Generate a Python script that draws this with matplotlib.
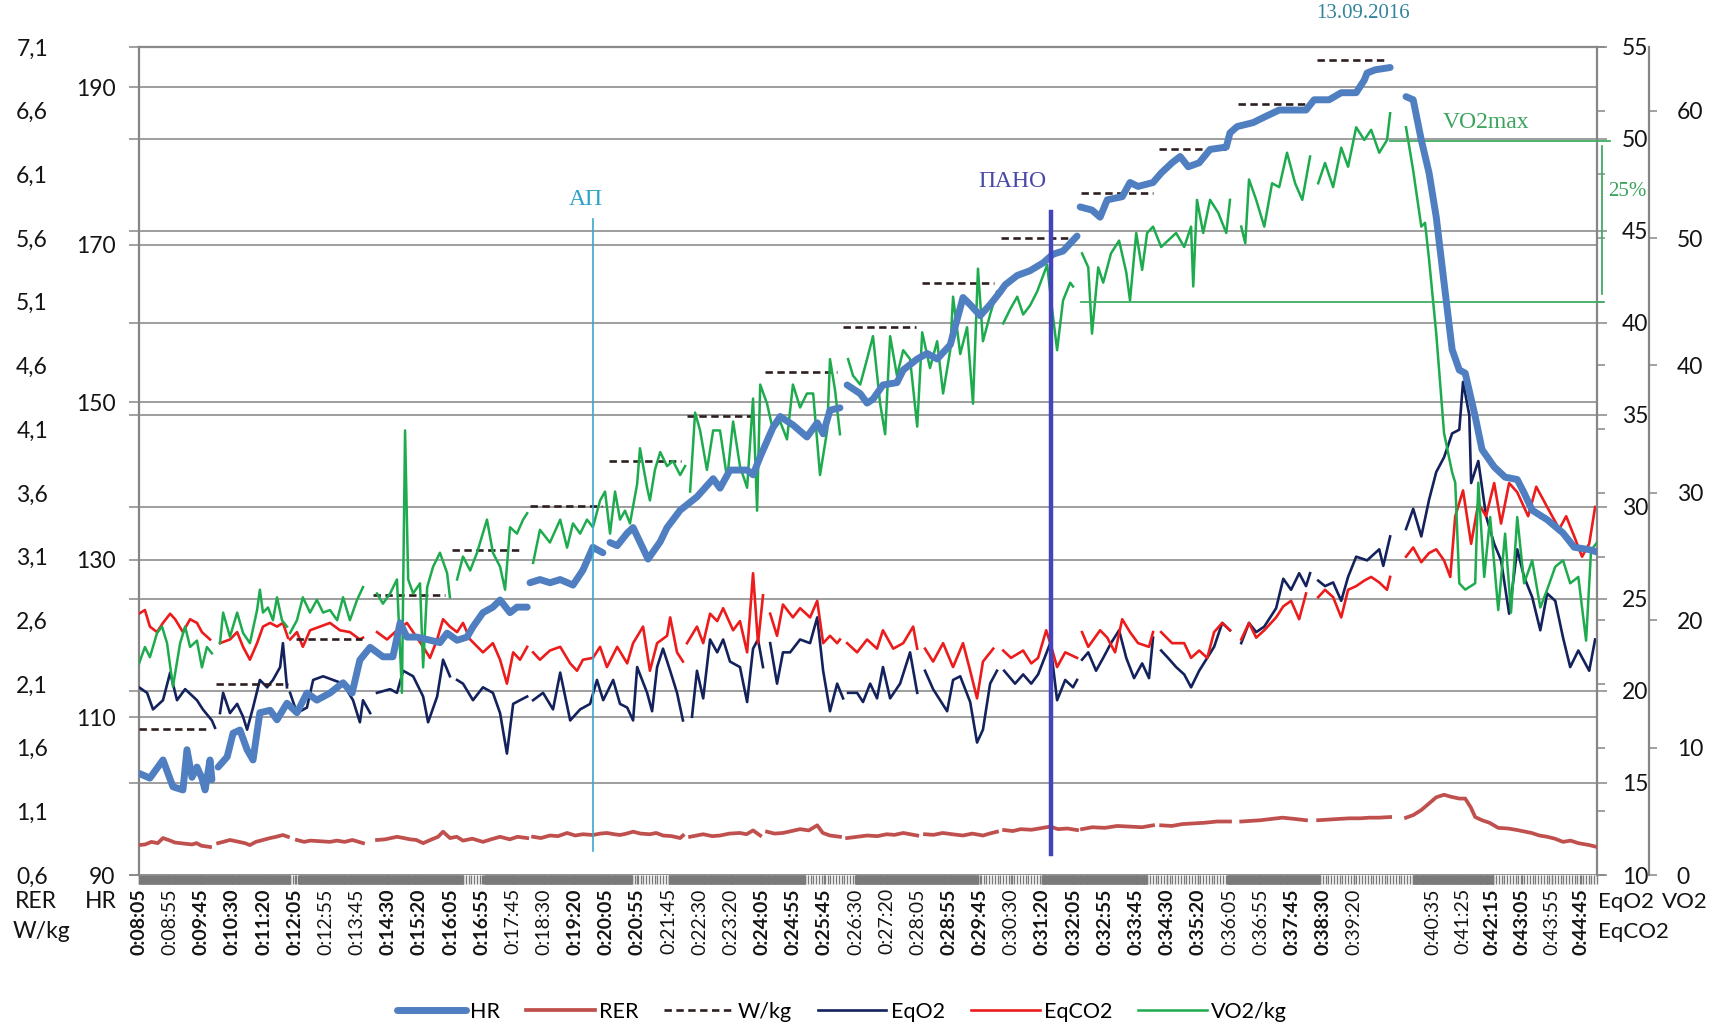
import matplotlib
matplotlib.use('Agg')
import numpy as np
import matplotlib.pyplot as plt
from matplotlib.ticker import FuncFormatter

plt.rcParams['font.family'] = ['Lato', 'DejaVu Sans']

W, H = 1721, 1028
GAP = None

# ── x axis: one label every 10 breaths, recording break after 0:39:20 ──────
time_labels = ['0:08:05', '0:08:55', '0:09:45', '0:10:30', '0:11:20', '0:12:05', '0:12:55',
               '0:13:45', '0:14:30', '0:15:20', '0:16:05', '0:16:55', '0:17:45', '0:18:30',
               '0:19:20', '0:20:05', '0:20:55', '0:21:45', '0:22:30', '0:23:20', '0:24:05',
               '0:24:55', '0:25:45', '0:26:30', '0:27:20', '0:28:05', '0:28:55', '0:29:45',
               '0:30:30', '0:31:20', '0:32:05', '0:32:55', '0:33:45', '0:34:30', '0:35:20',
               '0:36:05', '0:36:55', '0:37:45', '0:38:30', '0:39:20', '0:40:35', '0:41:25',
               '0:42:15', '0:43:05', '0:43:55', '0:44:45']
label_bold = [1, 0, 1, 1, 1, 1, 0, 0, 1, 1, 1, 1, 0, 0, 1, 1, 1, 0, 0, 0, 1, 1, 1,
              0, 0, 0, 1, 1, 0, 1, 1, 1, 1, 1, 1, 0, 0, 1, 1, 0, 0, 0, 1, 1, 0, 1]
# stretches of the axis where breaths are sparse (tick band looks striped)
sparse_spans = [(48.5, 51.1), (104, 110.8), (158.3, 170.1), (213.8, 229.9),
                (269.3, 289.9), (323.6, 349.3), (379.1, 409), (434.7, 468)]

# ── series: (breath index, value), GAP breaks the line ─────────────────────
hr_pts = [
    (0, 102.9), (3.5, 102.3), (7.7, 104.6), (10.9, 101.2), (14.1, 100.8), (15.4, 105.9),
    (17.0, 102.4), (18.6, 103.7), (20.2, 102.3), (21.2, 100.8), (22.8, 104.6), (23.4, 102.1), GAP,
    (25.4, 103.7), (28.3, 105.0), (30.2, 108.0), (32.4, 108.4), (34.7, 105.9), (36.6, 104.6),
    (38.8, 110.6), (42.1, 110.9), (44.3, 109.7), (47.5, 111.8), (50.7, 110.6), (53.9, 113.1),
    (57.1, 112.2), (61.3, 113.1), (65.5, 114.4), (68.4, 113.1), (70.9, 117.3), (74.2, 118.9),
    (78.3, 117.7), (81.5, 117.7), (83.8, 122.0), (86.0, 120.2), (89.2, 120.2), (93.4, 119.8),
    (96.6, 119.5), (98.9, 120.7), (102.1, 119.8), (105.3, 120.2), (107.2, 121.5), (110.4, 123.3),
    (113.6, 124.0), (115.9, 124.9), (119.1, 123.3), (121.3, 124.0), (124.6, 124.0), GAP,
    (125.5, 127.1), (128.7, 127.5), (131.9, 127.1), (135.2, 127.5), (139.3, 126.8), (142.5, 128.7),
    (145.7, 131.6), (148.9, 130.9), GAP,
    (151.2, 132.2), (153.5, 131.8), (156.7, 133.4), (158.6, 134.1), (163.4, 130.1), (167.3, 132.3),
    (169.5, 134.1), (173.7, 136.3), (179.1, 138.0), (184.3, 140.3), (186.5, 139.1), (189.7, 141.4),
    (195.2, 141.4), (197.1, 140.8), (199.4, 143.1), (203.5, 146.8), (205.8, 148.2), (210.0, 147.1),
    (214.4, 145.6), (217.7, 147.4), (219.6, 146.0), (221.8, 149.0), (225.0, 149.3), GAP,
    (227.3, 152.2), (231.5, 151.1), (233.7, 149.9), (235.6, 150.4), (238.8, 152.2), (243.3, 152.5),
    (245.3, 154.1), (249.8, 155.5), (253.0, 156.2), (256.2, 155.5), (260.4, 157.3), (264.5, 163.3),
    (266.8, 162.4), (270.0, 161.0), (273.2, 162.4), (276.4, 164.0), (278.0, 164.9), (281.9, 166.1),
    (286.0, 166.7), (290.2, 167.7), (293.4, 168.8), (296.6, 169.2), (301.1, 171.1), GAP,
    (302.1, 174.8), (305.9, 174.4), (308.5, 173.5), (310.8, 175.7), (315.6, 176.1), (318.1, 177.9),
    (320.7, 177.4), (325.5, 177.9), (328.1, 179.1), (331.6, 180.4), (334.2, 181.2), (336.8, 179.9),
    (340.3, 180.4), (343.8, 182.1), (349.0, 182.4), (350.2, 184.2), (352.5, 185.0), (357.6, 185.5),
    (361.2, 186.2), (366.0, 187.1), (374.6, 187.1), (377.2, 188.4), (382.0, 188.4), (385.9, 189.3),
    (390.7, 189.3), (393.3, 190.9), (394.2, 191.8), (396.8, 192.2), (401.6, 192.5), GAP,
    (406.7, 188.8), (409.0, 188.4), (411.6, 183.3), (414.1, 179.1), (416.4, 173.5), (418.9, 165.2),
    (421.5, 156.7), (423.8, 154.1), (425.7, 153.7), (428.9, 148.2), (431.1, 144.0), (435.0, 141.8),
    (438.5, 140.5), (442.4, 140.2), (444.6, 138.5), (447.2, 136.3), (452.0, 135.1), (457.1, 133.4),
    (460.7, 131.6), (465.5, 131.3), (468.0, 131.0)]

rer_pts = [
    (0, 0.835), (2, 0.84), (4, 0.86), (6, 0.85), (7.7, 0.89), (10, 0.87), (11.5, 0.855), (13.2, 0.85),
    (15, 0.845), (17, 0.84), (18.5, 0.85), (20, 0.83), (22.8, 0.82), GAP,
    (25.4, 0.85), (27, 0.86), (29.2, 0.875), (32, 0.86), (34, 0.85), (35.6, 0.835), (37.5, 0.86),
    (39, 0.87), (42.1, 0.89), (44, 0.90), (46.2, 0.914), (47.8, 0.90), GAP,
    (50.7, 0.875), (53, 0.86), (55, 0.87), (58, 0.865), (61.3, 0.86), (63.5, 0.87), (66, 0.86),
    (68.5, 0.875), (71.9, 0.85), GAP,
    (76.4, 0.875), (79, 0.88), (82.8, 0.90), (85, 0.89), (87, 0.88), (89, 0.875), (91.2, 0.85),
    (94, 0.88), (96, 0.90), (97.6, 0.94), (99.8, 0.89), (102, 0.90), (104, 0.87), (107, 0.885),
    (110.4, 0.86), (113, 0.88), (115.9, 0.90), (117.5, 0.89), (119, 0.88), (121.5, 0.90), (124.6, 0.89), GAP,
    (126.5, 0.90), (129, 0.89), (131.9, 0.91), (134.5, 0.905), (137.4, 0.93), (140, 0.91),
    (142.5, 0.92), (145.7, 0.914), (148, 0.925), (150.2, 0.93), (152.5, 0.92), (154.4, 0.914),
    (156.5, 0.925), (158.6, 0.94), (161, 0.925), (164, 0.92), (166, 0.93), (168.2, 0.91),
    (171, 0.905), (173.7, 0.89), (174.6, 0.91), GAP,
    (176.9, 0.90), (179, 0.91), (181.1, 0.92), (184, 0.905), (186.5, 0.91), (189.5, 0.925),
    (192.9, 0.93), (195, 0.92), (197.1, 0.95), (199.4, 0.91), GAP,
    (201.6, 0.94), (204, 0.925), (206.7, 0.93), (209.5, 0.945), (212.2, 0.96), (215, 0.95),
    (217.7, 0.99), (219.5, 0.93), (221.8, 0.91), (225, 0.90), GAP,
    (227.3, 0.89), (230.5, 0.90), (233.7, 0.91), (237, 0.905), (240, 0.92), (242.5, 0.915),
    (245.3, 0.93), (247.5, 0.92), (249.8, 0.91), GAP,
    (252.3, 0.92), (255, 0.915), (258, 0.93), (261, 0.92), (264.5, 0.91), (267.5, 0.925),
    (270.9, 0.91), (273, 0.925), (275.4, 0.94), GAP,
    (277.7, 0.953), (280.5, 0.945), (283, 0.96), (286.5, 0.955), (290.2, 0.97), (292.5, 0.98),
    (295, 0.96), (298, 0.965), (301.1, 0.953), GAP,
    (302.7, 0.96), (306, 0.975), (310, 0.97), (314, 0.985), (318, 0.98), (322, 0.975), (325.5, 0.99), GAP,
    (328.1, 0.99), (331.5, 0.985), (335, 1.00), (338.5, 1.005), (342, 1.01), (346, 1.02), (350.2, 1.02), GAP,
    (353.8, 1.02), (357, 1.025), (360, 1.03), (363.5, 1.04), (367, 1.05), (371, 1.04), (374.6, 1.03), GAP,
    (378.5, 1.03), (381.5, 1.035), (385, 1.04), (388.5, 1.045), (392, 1.045), (395, 1.05),
    (398, 1.05), (401.6, 1.055), GAP,
    (406.7, 1.05), (409, 1.07), (411.6, 1.11), (414, 1.16), (416.4, 1.21), (418.9, 1.23),
    (421, 1.215), (423.8, 1.20), (425.7, 1.20), (427.5, 1.13), (428.9, 1.055), (431.1, 1.03),
    (433.5, 1.01), (436.3, 0.97), (439.5, 0.965), (442.4, 0.953), (445, 0.94), (447, 0.93),
    (449.5, 0.91), (452, 0.90), (454.5, 0.885), (457.1, 0.86), (459.5, 0.87), (462, 0.85),
    (465.5, 0.835), (468, 0.82)]

wkg_start = [0, 24.8, 50.5, 75.2, 100.5, 125.6, 151, 176, 201, 226, 251.4, 276.7, 302.5, 327.5, 352.9, 378]
wkg_end = [22.3, 47.7, 71.7, 98.1, 123.1, 148.5, 174, 198.5, 224, 249.3, 274.3, 300, 325.4, 350, 375.8, 400.4]
wkg = [1.75, 2.1, 2.45, 2.8, 3.15, 3.5, 3.85, 4.2, 4.55, 4.9, 5.25, 5.6, 5.95, 6.3, 6.65, 7.0]

eqo2_pts = [
    (0, 20.2), (2.6, 19.9), (4.5, 19.0), (7.7, 19.5), (10.0, 21.0), (12.2, 19.5), (14.8, 20.1),
    (18.6, 19.5), (20.5, 19.0), (23.4, 18.4), (24.4, 18.0), GAP,
    (26.0, 18.8), (27.0, 19.9), (29.2, 18.8), (31.5, 19.3), (33.4, 18.6), (34.7, 17.9), (36.6, 19.1),
    (38.8, 20.6), (41.1, 20.2), (43.0, 20.6), (45.3, 21.3), (46.2, 22.6), (47.5, 20.2), GAP,
    (48.5, 19.9), (50.7, 18.8), (53.9, 19.1), (55.9, 20.6), (59.1, 20.8), (62.3, 20.6), (65.5, 20.4),
    (68.7, 19.5), (70.9, 18.3), (71.9, 19.5), (74.2, 18.8), GAP,
    (76.4, 19.9), (80.6, 20.1), (82.8, 19.9), (84.8, 21.1), (88.0, 20.8), (91.2, 19.7), (92.8, 18.3),
    (95.7, 19.7), (97.6, 21.7), (99.8, 20.8), GAP,
    (102.1, 20.6), (104.0, 20.4), (107.2, 19.5), (110.4, 20.2), (113.6, 19.9), (115.9, 18.8),
    (118.1, 16.6), (120.1, 19.3), (122.3, 19.5), (124.6, 19.7), GAP,
    (126.5, 19.5), (129.7, 19.9), (132.9, 19.0), (135.2, 21.0), (138.4, 18.4), (141.6, 19.0),
    (144.8, 19.3), (147.0, 20.6), (149.0, 19.5), (152.2, 20.6), (154.4, 19.3), (156.7, 19.1),
    (158.6, 18.4), (159.9, 21.3), (163.1, 19.9), (164.7, 18.9), (166.3, 21.3), (168.2, 22.3),
    (170.5, 21.1), (172.7, 19.9), (174.6, 18.4), GAP,
    (177.5, 18.6), (179.1, 21.1), (181.1, 19.6), (183.3, 22.8), (185.6, 22.1), (187.5, 22.8),
    (189.7, 21.6), (192.9, 21.3), (195.2, 19.4), (197.1, 22.3), (198.7, 22.8), (200.3, 21.3), GAP,
    (202.6, 22.6), (204.8, 20.4), (206.7, 22.1), (209.0, 22.1), (212.2, 22.8), (215.4, 22.6),
    (217.7, 24.0), (219.6, 21.1), (221.8, 18.9), (224.1, 20.4), (226.0, 19.6), GAP,
    (227.6, 19.9), (230.5, 19.9), (232.4, 19.4), (234.7, 20.4), (236.9, 19.6), (238.8, 21.3),
    (241.1, 19.6), (244.3, 20.4), (247.5, 22.1), (249.8, 19.9), GAP,
    (252.3, 21.1), (254.9, 20.1), (259.4, 18.9), (261.3, 20.6), (263.6, 20.8), (266.8, 19.4),
    (269.0, 17.2), (270.9, 17.9), (273.2, 20.4), (275.4, 21.1), GAP,
    (277.7, 21.1), (281.2, 20.4), (283.8, 20.9), (286.4, 20.4), (288.6, 20.9), (292.5, 22.6),
    (294.7, 19.5), (297.3, 20.6), (299.8, 20.2), (301.1, 20.6), GAP,
    (302.7, 21.7), (304.7, 22.1), (307.2, 21.1), (309.5, 21.8), (312.0, 22.6), (314.6, 23.3),
    (316.9, 21.8), (319.4, 20.7), (322.0, 21.5), (324.2, 20.7), (325.5, 22.9), GAP,
    (328.1, 22.2), (330.3, 21.8), (332.9, 21.3), (335.5, 20.9), (337.7, 20.2), (340.3, 21.1),
    (342.9, 21.8), (345.1, 22.4), (347.7, 23.7), (350.2, 23.3), GAP,
    (353.8, 22.6), (356.3, 23.7), (358.6, 23.2), (361.2, 23.5), (365.0, 24.5), (367.3, 26.1),
    (369.8, 25.5), (372.4, 26.4), (374.6, 25.7), (375.9, 26.4), GAP,
    (378.5, 26.0), (380.7, 25.7), (383.3, 25.9), (385.9, 24.9), (388.1, 26.2), (390.7, 27.3),
    (394.2, 27.1), (398.1, 27.7), (399.4, 26.8), (401.6, 28.4), GAP,
    (406.7, 28.8), (409.0, 29.9), (411.6, 28.4), (414.1, 30.4), (416.4, 31.9), (418.9, 32.7),
    (421.5, 34.0), (423.8, 34.2), (425.0, 36.8), (427.0, 35.0), (427.6, 31.3), (429.9, 32.5),
    (432.4, 29.5), (435.0, 28.0), (437.2, 27.1), (439.8, 24.2), (442.4, 27.7), (444.6, 26.2),
    (447.2, 25.1), (449.8, 23.3), (452.0, 25.3), (454.6, 24.9), (457.1, 22.9), (459.4, 21.3),
    (462.0, 22.2), (465.5, 21.1), (467.4, 22.8)]

eqco2_pts = [
    (0, 24.2), (1.9, 24.4), (3.5, 23.5), (5.8, 23.2), (7.7, 23.7), (10.0, 24.2), (11.6, 23.9),
    (14.1, 23.2), (16.4, 23.9), (18.6, 23.7), (20.2, 23.2), (22.8, 22.8), GAP,
    (26.0, 22.6), (29.2, 22.8), (31.5, 23.2), (33.4, 22.4), (35.6, 21.7), (37.9, 22.6), (39.8, 23.5),
    (42.1, 23.7), (44.3, 23.5), (46.2, 23.7), (47.8, 22.9), GAP,
    (48.5, 22.8), (50.7, 23.2), (52.6, 22.4), (54.9, 23.3), (58.1, 23.5), (61.3, 23.7), (64.5, 23.3),
    (67.7, 23.2), (70.9, 22.8), (71.9, 22.9), GAP,
    (76.4, 23.2), (79.6, 22.8), (82.8, 23.3), (86.0, 23.7), (89.2, 22.9), (91.2, 22.4), (93.4, 21.8),
    (95.7, 22.8), (97.6, 23.9), (99.8, 23.5), (102.1, 23.2), (104.0, 23.7), (106.3, 22.8),
    (110.4, 22.1), (113.6, 22.6), (115.9, 21.7), (118.1, 20.4), (120.1, 22.1), (122.3, 21.7),
    (124.6, 22.4), GAP,
    (126.5, 22.1), (128.7, 21.7), (131.9, 22.2), (135.2, 22.4), (138.4, 21.5), (140.6, 21.1),
    (142.5, 21.7), (145.7, 21.8), (148.0, 22.4), (150.2, 21.3), (153.5, 22.4), (156.7, 21.5),
    (158.6, 22.6), (161.8, 23.5), (164.0, 21.1), (166.3, 22.6), (169.5, 23.0), (170.5, 24.0),
    (172.7, 22.1), (174.6, 21.6), GAP,
    (175.9, 22.6), (179.1, 23.5), (181.1, 22.6), (183.3, 24.2), (185.6, 23.8), (187.5, 24.5),
    (190.7, 23.3), (192.9, 23.8), (195.2, 22.1), (197.1, 26.4), (198.7, 22.6), (200.3, 25.2), GAP,
    (202.6, 24.2), (204.8, 23.0), (206.7, 24.7), (209.9, 24.0), (212.2, 24.5), (215.4, 24.0),
    (217.7, 24.9), (219.6, 22.6), (221.8, 23.0), (224.1, 22.6), (225.0, 22.8), GAP,
    (227.3, 22.6), (230.5, 22.1), (233.7, 22.8), (236.9, 22.3), (238.8, 23.3), (242.1, 22.3),
    (245.3, 22.6), (248.5, 23.5), (249.8, 22.3), GAP,
    (252.3, 22.3), (254.9, 21.6), (258.1, 22.6), (261.3, 21.3), (264.5, 22.6), (266.8, 21.1),
    (269.0, 19.6), (270.9, 21.6), (274.2, 22.3), GAP,
    (277.4, 22.2), (279.9, 21.8), (283.8, 22.2), (286.4, 21.5), (288.6, 21.8), (291.2, 23.3),
    (292.5, 22.6), (294.7, 21.3), (297.3, 22.1), (301.1, 21.8), GAP,
    (302.7, 23.2), (304.7, 22.4), (308.5, 23.3), (310.8, 22.9), (313.3, 22.1), (315.6, 23.9),
    (318.1, 23.2), (320.7, 22.6), (324.2, 22.4), (325.5, 23.2), GAP,
    (328.1, 23.2), (331.6, 22.6), (335.5, 22.6), (337.7, 21.8), (340.3, 22.2), (342.9, 21.8),
    (345.1, 23.2), (347.7, 23.7), (350.2, 23.3), GAP,
    (353.8, 22.8), (356.3, 23.7), (358.6, 22.9), (361.2, 23.3), (365.0, 24.0), (367.3, 24.6),
    (369.8, 24.9), (372.4, 23.9), (374.6, 25.3), GAP,
    (378.5, 25.1), (380.7, 25.5), (383.3, 25.1), (385.9, 24.0), (388.1, 25.5), (390.7, 25.7),
    (393.3, 26.0), (395.5, 26.2), (398.1, 25.9), (400.6, 25.5), (401.6, 26.2), GAP,
    (406.7, 27.3), (409.0, 27.8), (411.6, 27.0), (414.1, 27.5), (416.4, 27.7), (418.9, 27.1),
    (420.9, 26.2), (422.5, 29.5), (425.0, 30.9), (427.6, 28.0), (429.9, 30.2), (432.4, 29.5),
    (435.0, 31.3), (437.2, 29.1), (439.8, 31.3), (442.4, 30.8), (445.9, 29.5), (448.5, 31.1),
    (452.0, 30.0), (455.9, 28.8), (458.1, 29.5), (460.7, 28.4), (463.2, 27.3), (465.5, 28.0),
    (467.4, 30.0)]

vo2_pts = [
    (0, 16.6), (1.9, 17.9), (3.5, 17.1), (5.8, 19.0), (7.4, 19.5), (9.0, 18.2), (10.9, 14.8),
    (13.2, 18.2), (14.8, 19.5), (16.4, 17.9), (18.6, 18.4), (20.2, 16.3), (21.8, 17.9), (23.4, 17.4), GAP,
    (26.0, 18.2), (27.0, 20.6), (29.2, 18.7), (31.5, 20.6), (33.4, 19.0), (35.6, 18.2), (37.9, 20.8),
    (38.8, 22.4), (39.8, 20.6), (41.4, 21.0), (43.0, 20.0), (44.3, 21.8), (45.9, 20.0), (47.5, 19.5), GAP,
    (48.5, 19.0), (50.7, 20.0), (52.6, 21.8), (54.9, 20.6), (57.1, 21.6), (59.1, 20.6), (61.3, 20.8),
    (63.6, 20.0), (65.5, 21.8), (67.7, 20.0), (70.0, 21.6), (71.9, 22.6), GAP,
    (76.4, 22.1), (78.3, 21.3), (80.6, 22.1), (82.8, 23.2), (84.4, 14.3), (85.4, 34.9), (86.4, 23.2),
    (88.0, 22.1), (90.2, 22.9), (91.2, 16.3), (92.5, 22.6), (94.4, 24.2), (96.6, 25.3), (98.9, 23.7),
    (99.8, 21.8), GAP,
    (102.1, 23.2), (104.0, 25.0), (106.3, 23.9), (108.5, 25.3), (111.7, 27.9), (113.6, 25.3),
    (115.9, 24.2), (117.5, 22.4), (119.1, 27.3), (121.3, 26.8), (123.3, 27.9), (124.6, 28.4), GAP,
    (126.5, 24.5), (128.7, 27.1), (131.9, 26.1), (135.2, 27.9), (137.4, 25.7), (139.3, 27.6),
    (141.6, 26.8), (143.8, 27.9), (145.7, 27.3), (148.0, 29.4), (149.6, 30.1), (151.2, 26.8),
    (152.8, 30.1), (154.4, 27.9), (156.0, 28.6), (157.6, 27.6), (159.9, 30.7), (160.8, 33.5),
    (163.1, 30.4), (164.0, 29.4), (165.6, 31.8), (167.3, 33.2), (169.5, 32.1), (171.4, 32.5),
    (173.7, 31.4), (175.3, 32.1), GAP,
    (176.9, 30.1), (178.5, 36.3), (180.1, 34.9), (182.3, 31.8), (184.3, 34.9), (186.5, 34.9),
    (188.8, 31.1), (190.7, 35.6), (192.9, 32.1), (195.2, 30.4), (197.1, 37.4), (198.4, 28.6),
    (199.4, 38.5), (201.6, 37.0), (203.5, 34.9), (205.8, 35.6), (208.0, 34.2), (209.9, 38.5),
    (212.2, 36.7), (214.4, 37.8), (216.4, 37.8), (218.6, 31.4), (220.9, 34.9), (221.8, 40.5),
    (223.4, 38.1), (225.0, 34.6), GAP,
    (227.6, 40.5), (229.2, 39.2), (231.5, 38.5), (233.7, 40.5), (235.6, 42.3), (237.9, 37.0),
    (239.5, 34.6), (241.1, 42.3), (243.3, 39.2), (245.3, 41.2), (247.5, 40.5), (249.8, 35.2),
    (251.4, 42.6), (253.9, 39.8), (256.2, 41.9), (258.1, 37.8), (260.4, 41.2), (261.3, 45.4),
    (263.6, 40.9), (265.8, 43.0), (267.7, 37.0), (269.3, 47.6), (270.9, 41.9), (273.2, 44.0),
    (275.4, 45.8), GAP,
    (277.4, 43.3), (279.6, 44.4), (281.9, 45.4), (283.8, 44.0), (286.0, 44.7), (288.3, 45.8),
    (291.5, 47.9), (293.1, 44.4), (294.7, 41.2), (296.6, 45.1), (298.9, 46.5), (299.8, 46.2), GAP,
    (302.7, 48.8), (304.7, 47.7), (305.9, 42.5), (307.9, 47.7), (309.5, 46.5), (312.0, 48.8),
    (314.6, 49.8), (316.9, 47.3), (318.1, 45.1), (320.1, 50.4), (322.0, 47.5), (323.6, 50.4),
    (325.5, 50.9), (328.1, 49.3), (330.3, 49.8), (332.9, 50.4), (335.5, 49.3), (337.7, 50.9),
    (338.4, 46.2), (339.6, 53.0), (341.6, 50.4), (343.8, 53.0), (346.4, 52.0), (349.0, 50.4),
    (350.2, 53.0), GAP,
    (353.8, 50.9), (355.1, 49.6), (356.3, 54.6), (358.6, 53.0), (361.2, 50.9), (363.7, 54.3),
    (366.0, 54.0), (368.5, 56.7), (371.1, 54.3), (373.4, 53.0), (375.9, 56.4), GAP,
    (378.5, 54.3), (380.7, 55.9), (383.3, 54.0), (385.9, 57.1), (388.1, 55.6), (390.7, 58.7),
    (393.3, 57.7), (395.5, 58.5), (398.1, 56.7), (400.6, 57.7), (401.6, 59.8), GAP,
    (406.7, 58.7), (409.0, 55.3), (411.6, 50.9), (412.8, 51.2), (414.1, 48.3), (416.4, 42.5),
    (418.9, 34.7), (421.5, 31.6), (422.5, 30.8), (423.8, 22.9), (425.7, 22.4), (428.9, 22.9),
    (429.9, 30.8), (431.8, 23.4), (433.7, 28.1), (436.3, 20.8), (438.5, 26.8), (440.4, 20.6),
    (442.4, 28.1), (444.6, 22.9), (447.2, 24.7), (449.8, 21.0), (452.0, 22.4), (454.6, 24.2),
    (457.1, 24.7), (459.4, 22.9), (462.0, 23.4), (464.5, 18.4), (466.1, 25.5), (468.0, 26.1)]

# markers: aerobic threshold, anaerobic threshold, VO2max and the 25 % band
at_idx, anat_idx = 145.7, 292.9
vo2max, vo2_band = 57.6, 45.0

# ── colours ────────────────────────────────────────────────────────────────
GRAY, GRID, BAND, TXT = '#868686', '#8e8e8e', '#7a7a7a', '#141414'
C_HR, C_RER, C_WKG = '#4f7fc0', '#c0504d', '#2e1f1f'
C_O2, C_CO2, C_VO2 = '#13225c', '#ec1c1c', '#1eab4e'
C_AT, C_ANAT, C_MAX = '#3aa8cc', '#4343c0', '#3fae62'
SERIF = 'Liberation Serif'
TICK_FS = 16.5


def split(pts):
    x = np.array([np.nan if p is None else p[0] for p in pts], float)
    y = np.array([np.nan if p is None else p[1] for p in pts], float)
    return x, y


def fx(x):
    return x / W


def fy(y):
    return 1 - y / H


fig = plt.figure(figsize=(W / 100, H / 100), dpi=100, facecolor='white')
L, R, T, B = 139, 1597, 47, 875
ax = fig.add_axes([L / W, 1 - B / H, (R - L) / W, (B - T) / H])

# HR scale (inner left), holds the HR grid
ax.set_xlim(0, 468)
ax.set_ylim(90, 195.1)
ax.set_yticks(np.arange(90, 191, 20))
ax.grid(axis='y', color=GRID, lw=1.2)
for s in ['right', 'bottom']:
    ax.spines[s].set_visible(False)
for s in ['left', 'top']:
    ax.spines[s].set_color(GRAY)
    ax.spines[s].set_linewidth(1.6)
ax.tick_params(axis='y', length=7, width=1.1, color=GRAY, pad=10, labelsize=TICK_FS, labelcolor=TXT)

tick_pos = list(np.arange(0, 400, 10)) + list(415.4 + 9.52 * np.arange(6))
ax.set_xticks(tick_pos)
ax.set_xticklabels(time_labels, rotation=90, fontsize=14)
for lab, b in zip(ax.get_xticklabels(), label_bold):
    lab.set_fontweight('bold' if b else 'normal')

# one tick per breath: dense stretches merge into a solid band
edges = [0.0] + [v for span in sparse_spans for v in span]
minor = []
for i in range(len(edges) - 1):
    step = 0.9 if i % 2 else 0.15
    minor.extend(np.arange(edges[i], edges[i + 1], step))
ax.set_xticks(minor, minor=True)
ax.tick_params(axis='x', which='both', length=6.5, width=1.0, color=BAND)
ax.tick_params(axis='x', which='major', pad=3, labelcolor=TXT)

# EqO2 / EqCO2 scale (inner right)
ax_eq = ax.twinx()
ax_eq.set_ylim(10, 55)
ax_eq.set_yticks(np.arange(10, 56, 5))
ax_eq.grid(axis='y', color=GRID, lw=1.2)
ax_eq.tick_params(axis='y', left=True, right=True, labelleft=False, labelright=True,
                  length=7, width=1.1, color=GRAY, pad=11, labelsize=TICK_FS, labelcolor=TXT)
for s in ['left', 'top', 'bottom']:
    ax_eq.spines[s].set_visible(False)
ax_eq.spines['right'].set_color(GRAY)
ax_eq.spines['right'].set_linewidth(1.6)

# RER / W/kg scale (outer left, labels only)
ax_w = ax.twinx()
ax_w.set_ylim(0.6, 7.1)
ax_w.set_yticks(np.arange(0.6, 7.15, 0.5))
ax_w.yaxis.set_major_formatter(FuncFormatter(lambda v, p: f'{v:.1f}'.replace('.', ',')))
ax_w.tick_params(axis='y', left=False, labelleft=True, right=True, labelright=False,
                 length=6, width=1.1, color=GRAY, pad=59.5, labelsize=TICK_FS, labelcolor=TXT)
for s in ax_w.spines.values():
    s.set_visible(False)

# VO2 scale (outer right)
ax_v = ax.twinx()
ax_v.set_ylim(0, 65)
ax_v.set_yticks(np.arange(0, 61, 10))
ax_v.spines['right'].set_position(('axes', 1 + 52 / (R - L)))
ax_v.spines['right'].set_color(GRAY)
ax_v.spines['right'].set_linewidth(1.6)
for s in ['left', 'top', 'bottom']:
    ax_v.spines[s].set_visible(False)
ax_v.tick_params(axis='y', length=6, width=1.1, color=GRAY, pad=14, labelsize=TICK_FS, labelcolor=TXT)

# HR drawn last so it sits on top
ax_hr = ax.twinx()
ax_hr.set_ylim(ax.get_ylim())
ax_hr.set_yticks([])
for s in ax_hr.spines.values():
    s.set_visible(False)

x, y = split(eqo2_pts)
l_o2, = ax_eq.plot(x, y, color=C_O2, lw=1.9, label='EqO2')
x, y = split(eqco2_pts)
l_co2, = ax_eq.plot(x, y, color=C_CO2, lw=1.9, label='EqCO2')

x, y = split(rer_pts)
l_rer, = ax_w.plot(x, y, color=C_RER, lw=2.7, label='RER')
l_wkg = ax_w.hlines(wkg, wkg_start, wkg_end, colors=C_WKG, linestyles=[(0, (2.8, 1.7))],
                    lw=1.9, label='W/kg')

x, y = split(vo2_pts)
l_vo2, = ax_v.plot(x, y, color=C_VO2, lw=1.8, label='VO2/kg')
ax_v.plot([401.6, 472.2], [vo2max, vo2max], color=C_MAX, lw=1.3, clip_on=False)
ax_v.plot([302.5, 470.0], [vo2_band, vo2_band], color=C_MAX, lw=1.3, clip_on=False)
ax_v.plot([469.7, 469.7], [vo2max - 0.4, vo2_band + 0.6], color=C_MAX, lw=1.3, clip_on=False)

x, y = split(hr_pts)
l_hr, = ax_hr.plot(x, y, color=C_HR, lw=5.0, solid_capstyle='round',
                   solid_joinstyle='round', label='HR')
ax_hr.axvline(at_idx, ymin=0.029, ymax=0.792, color=C_AT, lw=1.2)
ax_hr.axvline(anat_idx, ymin=0.025, ymax=0.801, color=C_ANAT, lw=3.2)

ax_hr.text(143.5, 175.8, 'АП', family=SERIF, size=17, color='#2ea3c7', ha='center', va='center')
ax_hr.text(280.3, 178.0, 'ПАНО', family=SERIF, size=17, color='#4848a8', ha='center', va='center')
fig.text(fx(1486), fy(122), 'VO2max', family=SERIF, size=17, color='#3ca35c', ha='center', va='center')
fig.text(fx(1627), fy(192), '25%', family=SERIF, size=15, color='#3ca35c', ha='center', va='center')
fig.text(fx(1363), fy(14), '13.09.2016', family=SERIF, size=15, color='#31849b', ha='center', va='center')

# axis captions under the scales
fig.text(fx(15), fy(902), 'RER', size=16.5, color=TXT, ha='left', va='center')
fig.text(fx(13), fy(931), 'W/kg', size=16.5, color=TXT, ha='left', va='center')
fig.text(fx(101), fy(902), 'HR', size=16.5, color=TXT, ha='center', va='center')
fig.text(fx(1598), fy(902), 'EqO2', size=16, color=TXT, ha='left', va='center')
fig.text(fx(1598), fy(932), 'EqCO2', size=16, color=TXT, ha='left', va='center')
fig.text(fx(1685), fy(902), 'VO2', size=16, color=TXT, ha='center', va='center')

fig.legend([l_hr, l_rer, l_wkg, l_o2, l_co2, l_vo2],
           ['HR', 'RER', 'W/kg', 'EqO2', 'EqCO2', 'VO2/kg'],
           loc='center', bbox_to_anchor=(fx(842), fy(1012)), ncol=6, frameon=False,
           fontsize=15.5, handlelength=3.2, handletextpad=0.2, columnspacing=1.2)

fig.savefig('out.png', dpi=100, facecolor='white')
